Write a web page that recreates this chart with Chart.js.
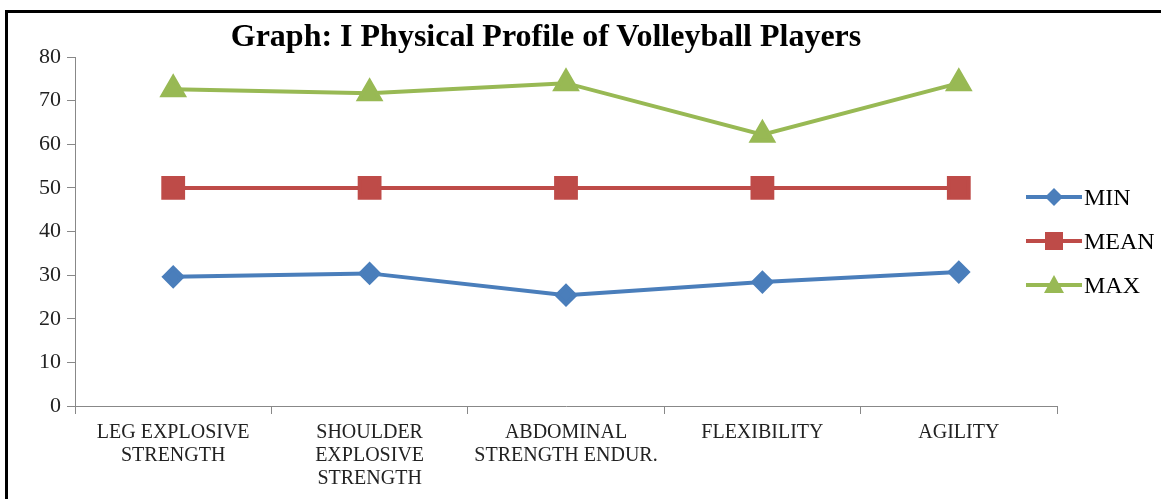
<!DOCTYPE html>
<html>
<head>
<meta charset="utf-8">
<script src="https://cdn.jsdelivr.net/npm/chart.js@4.4.0/dist/chart.umd.min.js"></script>
<style>
    body { margin: 0; background: #fff; }
    #wrap { position: relative; width: 1161px; height: 499px; overflow: hidden; }
    #frame { position: absolute; left: 5px; top: 10px; width: 1300px; height: 600px;
        border-top: 3px solid #000; border-left: 3px solid #000; }
    #title { position: absolute; left: 0; width: 1092px; top: 17px; text-align: center;
        font: bold 32px/36px "Liberation Serif", serif; color: #000; }
    #chart { position: absolute; left: 0; top: 0; }
    #legend { position: absolute; left: 1026px; top: 175px; }
    .item { height: 44px; display: flex; align-items: center;
        font: 24px "Liberation Serif", serif; color: #000; }
    .item canvas { margin-right: 2px; }
</style>
</head>
<body>
<div id="wrap">
    <div id="frame"></div>
    <canvas id="chart" width="1161" height="499"></canvas>
    <div id="title">Graph: I Physical Profile of Volleyball Players</div>
    <div id="legend"></div>
</div>
<script>
// 数据
const categories = [
    ['LEG EXPLOSIVE', 'STRENGTH'],
    ['SHOULDER', 'EXPLOSIVE', 'STRENGTH'],
    ['ABDOMINAL', 'STRENGTH ENDUR.'],
    'FLEXIBILITY',
    'AGILITY'
];
const seriesNames = ['MIN', 'MEAN', 'MAX'];
const minValues = [29.6, 30.4, 25.4, 28.4, 30.7];
const meanValues = [50, 50, 50, 50, 50];
const maxValues = [72.6, 71.7, 74.0, 62.2, 74.0];
const yTicks = [0, 10, 20, 30, 40, 50, 60, 70, 80];

const BLUE = '#4a7ebb';
const RED = '#be4b48';
const GREEN = '#98b954';
const FONT = '"Liberation Serif", serif';

// 图例用的小图：线 + 标记
const legendIcon = (color, shape) => {
    const c = document.createElement('canvas');
    c.width = 56;
    c.height = 20;
    const g = c.getContext('2d');
    g.strokeStyle = color;
    g.lineWidth = 4;
    g.beginPath();
    g.moveTo(0, 10);
    g.lineTo(56, 10);
    g.stroke();
    g.fillStyle = color;
    g.beginPath();
    if (shape === 'rectRot') {
        g.moveTo(28, 1); g.lineTo(37, 10); g.lineTo(28, 19); g.lineTo(19, 10);
    } else if (shape === 'rect') {
        g.rect(19, 1, 18, 18);
    } else {
        g.moveTo(28, 0); g.lineTo(38, 18); g.lineTo(18, 18);
    }
    g.closePath();
    g.fill();
    return c;
};

const colors = [BLUE, RED, GREEN];
const shapes = ['rectRot', 'rect', 'triangle'];
const radii = [9, 14, 12];
const values = [minValues, meanValues, maxValues];

// HTML 图例
const legendEl = document.getElementById('legend');
seriesNames.forEach((name, i) => {
    const row = document.createElement('div');
    row.className = 'item';
    row.appendChild(legendIcon(colors[i], shapes[i]));
    const span = document.createElement('span');
    span.innerText = name;
    row.appendChild(span);
    legendEl.appendChild(row);
});

const ctx = document.getElementById('chart').getContext('2d');
new Chart(ctx, {
    type: 'line',
    data: {
        labels: categories,
        datasets: seriesNames.map((name, i) => ({
            label: name,
            data: values[i],
            borderColor: colors[i],
            backgroundColor: colors[i],
            borderWidth: 4,
            pointStyle: shapes[i],
            pointRadius: radii[i],
            pointHoverRadius: radii[i]
        }))
    },
    options: {
        responsive: false,
        animation: false,
        layout: {padding: {left: 33, top: 57, right: 104, bottom: 2}},
        plugins: {
            tooltip: {enabled: false},
            legend: {display: false}
        },
        scales: {
            x: {
                offset: true,
                grid: {display: true, drawOnChartArea: false, offset: true, color: '#888', tickLength: 8},
                border: {color: '#888', width: 1},
                ticks: {color: '#222', font: {family: FONT, size: 20, lineHeight: 1.15}, maxRotation: 0, autoSkip: false, padding: 7}
            },
            y: {
                min: 0,
                max: 80,
                afterBuildTicks: axis => { axis.ticks = yTicks.map(v => ({value: v})); },
                grid: {display: true, drawOnChartArea: false, color: '#888', tickLength: 8},
                border: {color: '#888', width: 1},
                ticks: {color: '#222', font: {family: FONT, size: 22}, padding: 6}
            }
        }
    }
});
</script>
</body>
</html>
